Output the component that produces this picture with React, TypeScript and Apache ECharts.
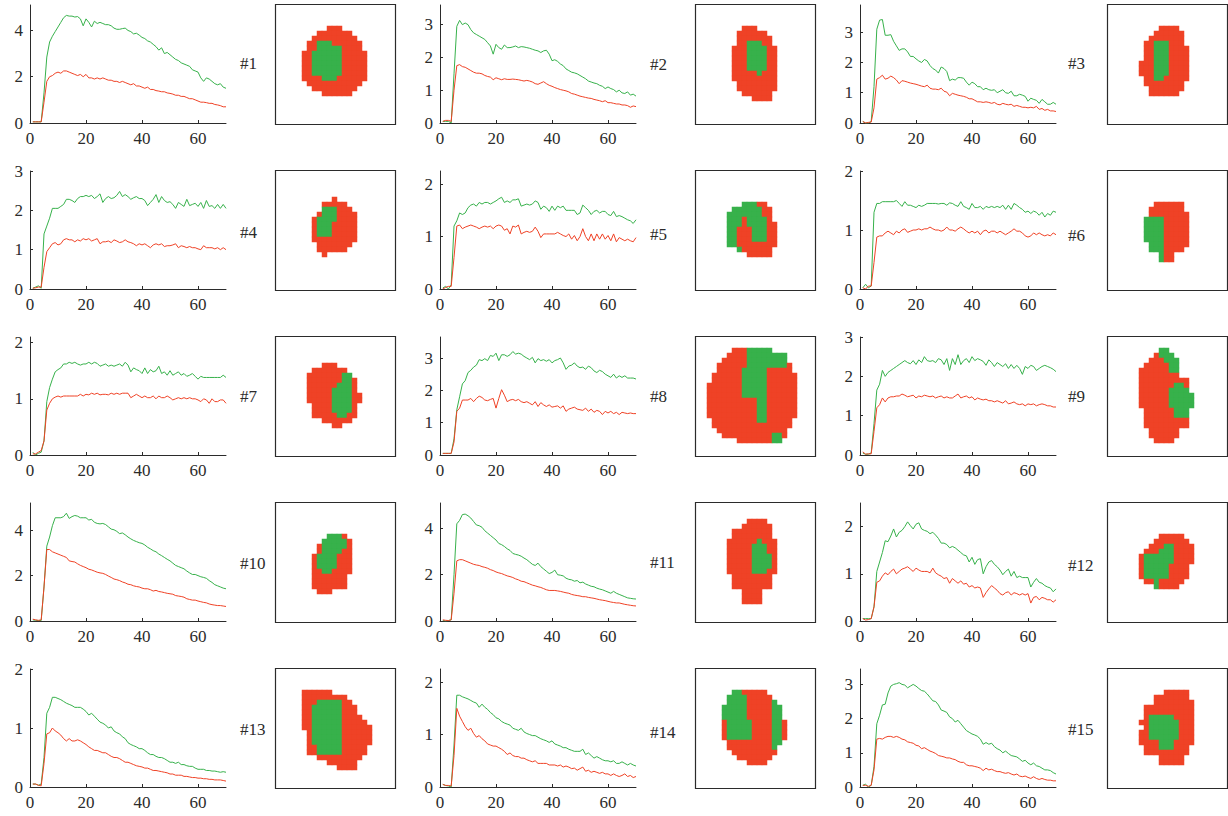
import React, { useEffect, useRef } from "react";
import * as echarts from "echarts";

// ---------------- data ----------------
const X_TICKS = [0, 20, 40, 60];
const X_MAX = 70;
const PANEL_LABELS = ["#1", "#2", "#3", "#4", "#5", "#6", "#7", "#8", "#9", "#10", "#11", "#12", "#13", "#14", "#15"];
const Y_MAX = [5.1, 3.6, 3.9, 3, 2.25, 2, 2.1, 3.65, 3, 5.2, 5.1, 2.5, 2, 2.25, 3.45];
const Y_TICKS = [
  [0, 2, 4], [0, 1, 2, 3], [0, 1, 2, 3],
  [0, 1, 2, 3], [0, 1, 2], [0, 1, 2],
  [0, 1, 2], [0, 1, 2, 3], [0, 1, 2, 3],
  [0, 2, 4], [0, 2, 4], [0, 1, 2],
  [0, 1, 2], [0, 1, 2], [0, 1, 2, 3],
];

const G01 = [0.05,0.05,0.05,0.05,1.3,2.85,3.5,3.75,3.95,4.15,4.35,4.55,4.65,4.62,4.62,4.58,4.6,4.5,4.2,4.5,4.35,4.15,4.4,4.3,4.35,4.3,4.25,4.25,4.2,4.1,4.05,4.05,4.08,4.1,4.0,3.95,3.85,3.88,3.8,3.7,3.65,3.55,3.5,3.4,3.3,3.15,3.25,3.0,3.05,2.95,2.85,2.75,2.7,2.6,2.55,2.5,2.45,2.3,2.25,2.2,1.95,1.8,1.95,1.9,1.8,1.7,1.65,1.7,1.55,1.5];
const R01 = [0.05,0.05,0.05,0.05,0.9,1.8,2.0,2.05,2.15,2.2,2.15,2.25,2.25,2.2,2.15,2.1,2.05,2.1,2.0,2.1,1.95,1.95,1.9,1.95,1.9,1.95,1.9,1.85,1.85,1.8,1.8,1.75,1.8,1.75,1.7,1.65,1.7,1.6,1.6,1.55,1.5,1.55,1.45,1.45,1.4,1.38,1.35,1.35,1.3,1.28,1.25,1.2,1.2,1.15,1.15,1.1,1.05,1.05,1.0,0.95,0.9,0.9,0.88,0.85,0.85,0.8,0.78,0.75,0.7,0.7];
const G02 = [0.05,0.05,0.05,0.0,1.5,2.95,3.13,3.0,3.05,3.0,2.85,2.75,2.7,2.65,2.6,2.55,2.45,2.35,2.1,2.4,2.3,2.25,2.38,2.3,2.3,2.32,2.35,2.3,2.33,2.32,2.3,2.28,2.25,2.22,2.2,2.15,2.2,2.22,2.1,1.9,1.93,1.88,1.8,1.75,1.65,1.6,1.55,1.53,1.5,1.45,1.4,1.35,1.28,1.25,1.22,1.2,1.15,1.12,1.05,1.1,1.05,1.02,0.95,1.0,0.92,0.9,0.95,0.85,0.88,0.82];
const R02 = [0.05,0.08,0.08,0.05,1.0,1.75,1.78,1.72,1.7,1.65,1.6,1.55,1.52,1.52,1.5,1.45,1.42,1.4,1.32,1.38,1.35,1.32,1.35,1.33,1.33,1.34,1.33,1.32,1.3,1.28,1.3,1.28,1.25,1.2,1.18,1.22,1.26,1.2,1.15,1.12,1.08,1.05,1.02,1.0,0.98,0.95,0.9,0.88,0.85,0.82,0.8,0.78,0.76,0.75,0.72,0.7,0.68,0.65,0.68,0.62,0.62,0.6,0.58,0.58,0.55,0.55,0.53,0.48,0.52,0.5];
const G03 = [0.05,0.0,0.0,0.05,1.2,3.1,3.4,3.42,2.9,2.9,2.92,2.7,2.55,2.4,2.45,2.45,2.35,2.2,2.2,2.12,2.05,2.0,2.1,2.05,1.9,1.8,1.75,1.65,1.85,1.8,1.7,1.4,1.45,1.42,1.5,1.5,1.48,1.35,1.25,1.35,1.3,1.2,1.2,1.1,1.15,1.1,1.08,1.1,1.0,1.05,1.1,1.0,0.98,1.05,0.9,0.9,0.95,0.92,0.88,0.72,0.82,0.78,0.75,0.65,0.78,0.7,0.62,0.62,0.68,0.62];
const R03 = [0.05,0.0,0.02,0.03,0.5,1.45,1.5,1.58,1.45,1.48,1.55,1.5,1.42,1.3,1.4,1.38,1.35,1.32,1.3,1.28,1.25,1.22,1.2,1.25,1.15,1.12,1.12,1.1,1.15,1.05,1.02,0.9,0.98,0.95,0.92,0.9,0.88,0.85,0.8,0.8,0.75,0.7,0.7,0.68,0.7,0.68,0.65,0.68,0.62,0.6,0.65,0.62,0.6,0.62,0.55,0.58,0.55,0.52,0.52,0.5,0.52,0.5,0.55,0.45,0.48,0.42,0.45,0.4,0.4,0.38];
const G04 = [0.02,0.05,0.08,0.02,1.4,1.6,1.8,2.05,2.05,2.05,2.1,2.15,2.28,2.28,2.25,2.2,2.3,2.35,2.35,2.38,2.35,2.38,2.3,2.35,2.42,2.2,2.3,2.35,2.3,2.32,2.38,2.48,2.35,2.4,2.35,2.28,2.32,2.35,2.3,2.3,2.25,2.12,2.2,2.28,2.4,2.2,2.35,2.25,2.2,2.22,2.15,2.05,2.2,2.15,2.1,2.28,2.12,2.15,2.18,2.1,2.2,2.05,2.25,2.1,2.12,2.05,2.15,2.05,2.15,2.05];
const R04 = [0.02,0.03,0.05,0.05,0.55,0.95,1.05,1.15,1.18,1.12,1.15,1.25,1.28,1.25,1.25,1.2,1.25,1.22,1.28,1.25,1.28,1.22,1.25,1.28,1.15,1.2,1.2,1.22,1.18,1.25,1.22,1.18,1.2,1.25,1.2,1.18,1.15,1.1,1.15,1.12,1.15,1.1,1.05,1.12,1.15,1.12,1.15,1.08,1.1,1.1,1.12,1.15,1.05,1.1,1.08,1.05,1.08,1.05,1.05,1.02,1.0,1.1,1.05,1.05,1.05,1.02,1.05,1.0,1.05,1.0];
const G05 = [0.02,0.05,0.0,0.08,1.2,1.3,1.45,1.42,1.45,1.55,1.6,1.62,1.58,1.65,1.62,1.65,1.65,1.62,1.65,1.68,1.72,1.75,1.65,1.68,1.65,1.7,1.7,1.72,1.58,1.6,1.62,1.6,1.62,1.68,1.65,1.52,1.58,1.55,1.48,1.58,1.5,1.58,1.55,1.58,1.5,1.5,1.5,1.5,1.42,1.45,1.6,1.55,1.5,1.42,1.48,1.5,1.45,1.48,1.48,1.42,1.4,1.48,1.38,1.4,1.38,1.35,1.32,1.3,1.25,1.32];
const R05 = [0.0,0.03,0.05,0.05,0.6,1.2,1.22,1.15,1.18,1.2,1.22,1.2,1.18,1.15,1.18,1.2,1.18,1.2,1.15,1.2,1.22,1.2,1.12,1.15,1.05,1.2,1.18,1.22,1.05,1.08,1.1,1.08,1.1,1.18,1.1,0.98,1.05,1.05,1.05,1.05,1.05,1.08,1.05,1.02,1.0,1.05,0.95,1.02,0.92,1.0,1.15,1.0,0.92,1.05,0.92,1.05,0.95,1.05,0.95,1.02,0.92,1.05,0.9,0.98,0.95,0.92,0.95,0.92,0.9,0.98];
const G06 = [0.02,0.08,0.02,0.05,1.3,1.45,1.45,1.48,1.48,1.48,1.48,1.48,1.5,1.45,1.4,1.48,1.42,1.42,1.4,1.38,1.42,1.4,1.42,1.45,1.45,1.45,1.45,1.44,1.45,1.45,1.42,1.46,1.45,1.42,1.4,1.48,1.4,1.38,1.35,1.45,1.38,1.38,1.4,1.35,1.4,1.38,1.4,1.38,1.4,1.38,1.42,1.35,1.42,1.35,1.45,1.42,1.38,1.35,1.3,1.32,1.28,1.32,1.3,1.25,1.3,1.22,1.28,1.25,1.32,1.3];
const R06 = [0.02,0.0,0.05,0.05,0.45,0.88,0.9,0.9,0.95,0.98,0.95,0.92,0.98,0.95,1.0,1.02,0.96,0.98,1.0,1.0,1.02,1.0,1.02,1.02,1.05,1.02,1.0,1.0,0.98,1.0,1.05,1.0,1.0,0.98,1.02,1.05,1.02,0.98,0.95,0.98,0.95,0.98,0.92,0.98,1.0,0.95,0.98,0.98,0.95,0.98,0.95,0.92,0.95,0.98,1.02,0.98,0.98,0.95,0.9,0.88,0.9,0.95,0.92,0.95,0.92,0.9,0.92,0.9,0.95,0.92];
const G07 = [0.05,0.0,0.03,0.05,0.25,0.95,1.2,1.35,1.48,1.52,1.55,1.62,1.62,1.65,1.63,1.65,1.62,1.6,1.62,1.62,1.65,1.62,1.65,1.63,1.58,1.6,1.62,1.58,1.6,1.58,1.6,1.62,1.58,1.65,1.6,1.48,1.55,1.52,1.5,1.45,1.55,1.45,1.52,1.48,1.5,1.58,1.45,1.48,1.42,1.5,1.42,1.45,1.48,1.42,1.45,1.4,1.42,1.45,1.4,1.35,1.4,1.38,1.38,1.38,1.38,1.38,1.38,1.38,1.42,1.38];
const R07 = [0.02,0.02,0.05,0.08,0.25,0.8,0.92,1.0,1.03,1.05,1.03,1.05,1.05,1.05,1.05,1.05,1.05,1.08,1.05,1.08,1.07,1.1,1.08,1.1,1.07,1.08,1.08,1.07,1.1,1.08,1.1,1.08,1.1,1.1,1.1,1.02,1.05,1.08,1.05,1.02,1.05,1.02,1.02,1.05,1.0,1.05,1.02,1.02,1.05,1.02,0.98,1.0,1.02,1.0,1.02,1.0,1.02,1.0,1.0,0.98,0.95,1.0,0.98,0.92,1.0,0.95,0.95,0.98,0.98,0.92];
const G08 = [0.05,0.05,0.05,0.05,0.5,1.4,1.8,2.2,2.3,2.55,2.62,2.72,2.78,2.95,2.92,2.98,2.92,3.08,3.05,3.15,2.92,3.1,3.1,3.05,3.1,3.2,3.12,3.15,3.12,3.05,3.0,2.95,3.02,2.85,2.98,2.92,2.95,2.9,2.95,2.85,2.92,2.95,3.0,2.85,2.65,2.75,2.78,2.85,2.75,2.7,2.72,2.65,2.75,2.7,2.6,2.55,2.62,2.58,2.5,2.45,2.4,2.5,2.38,2.45,2.4,2.45,2.38,2.38,2.38,2.35];
const R08 = [0.05,0.05,0.05,0.05,0.4,1.35,1.45,1.7,1.7,1.7,1.75,1.65,1.75,1.82,1.78,1.7,1.68,1.72,1.75,1.45,1.75,2.02,1.85,1.65,1.7,1.72,1.68,1.72,1.65,1.62,1.65,1.6,1.55,1.65,1.5,1.62,1.55,1.5,1.55,1.48,1.5,1.52,1.45,1.52,1.35,1.42,1.45,1.48,1.42,1.4,1.38,1.45,1.35,1.42,1.32,1.38,1.35,1.25,1.35,1.3,1.35,1.28,1.32,1.25,1.32,1.3,1.28,1.3,1.28,1.28];
const G09 = [0.05,0.02,0.02,0.05,0.8,1.65,1.8,2.15,2.0,2.1,2.15,2.2,2.25,2.3,2.35,2.4,2.35,2.32,2.4,2.3,2.42,2.35,2.5,2.4,2.38,2.4,2.35,2.45,2.42,2.3,2.45,2.15,2.45,2.3,2.55,2.3,2.4,2.45,2.35,2.5,2.4,2.45,2.42,2.38,2.28,2.42,2.35,2.25,2.35,2.3,2.25,2.32,2.2,2.3,2.2,2.28,2.2,2.05,2.25,2.2,2.28,2.25,2.15,2.2,2.25,2.28,2.25,2.22,2.18,2.12];
const R09 = [0.08,0.02,0.03,0.03,0.6,1.2,1.28,1.45,1.35,1.45,1.48,1.48,1.5,1.5,1.55,1.52,1.48,1.5,1.52,1.45,1.5,1.48,1.52,1.5,1.48,1.5,1.45,1.48,1.5,1.45,1.48,1.45,1.45,1.5,1.55,1.45,1.48,1.5,1.45,1.48,1.4,1.45,1.42,1.4,1.42,1.38,1.38,1.35,1.38,1.35,1.32,1.38,1.3,1.32,1.35,1.3,1.28,1.3,1.25,1.3,1.28,1.3,1.25,1.28,1.3,1.28,1.25,1.25,1.22,1.22];
const G10 = [0.05,0.03,0.02,0.02,1.5,3.3,3.7,4.2,4.55,4.55,4.55,4.6,4.75,4.52,4.6,4.65,4.62,4.55,4.55,4.55,4.45,4.48,4.35,4.3,4.28,4.3,4.25,4.15,4.05,4.02,3.95,3.85,3.88,3.8,3.7,3.62,3.55,3.5,3.45,3.42,3.35,3.25,3.18,3.1,3.05,2.95,2.88,2.8,2.72,2.65,2.55,2.45,2.4,2.35,2.3,2.2,2.12,2.05,2.05,2.0,1.95,1.92,1.88,1.78,1.7,1.6,1.55,1.5,1.45,1.42];
const R10 = [0.08,0.05,0.03,0.05,1.5,3.15,3.15,3.05,3.0,2.95,2.9,2.85,2.8,2.65,2.62,2.6,2.52,2.45,2.4,2.35,2.28,2.25,2.2,2.15,2.12,2.1,2.05,1.98,1.92,1.85,1.82,1.78,1.72,1.68,1.62,1.6,1.55,1.52,1.5,1.45,1.42,1.42,1.38,1.32,1.35,1.3,1.28,1.25,1.22,1.2,1.18,1.12,1.1,1.08,1.05,0.98,0.95,0.92,0.92,0.88,0.85,0.82,0.8,0.75,0.72,0.7,0.68,0.68,0.66,0.64];
const G11 = [0.02,0.0,0.02,0.05,2.0,4.2,4.35,4.6,4.62,4.55,4.45,4.3,4.15,4.12,4.05,3.9,3.8,3.7,3.6,3.5,3.35,3.3,3.22,3.12,3.05,2.92,2.88,2.85,2.8,2.72,2.65,2.55,2.45,2.4,2.5,2.35,2.25,2.15,2.05,2.1,2.2,2.0,1.98,1.95,1.85,1.8,1.78,1.72,1.75,1.65,1.68,1.6,1.55,1.5,1.48,1.42,1.38,1.35,1.3,1.25,1.2,1.28,1.2,1.15,1.1,1.05,1.0,0.98,0.96,0.95];
const R11 = [0.05,0.03,0.02,0.05,1.2,2.6,2.65,2.65,2.6,2.55,2.5,2.45,2.42,2.4,2.35,2.32,2.28,2.22,2.18,2.12,2.08,2.05,2.0,1.95,1.92,1.88,1.82,1.78,1.72,1.7,1.65,1.6,1.55,1.52,1.48,1.45,1.4,1.35,1.32,1.32,1.32,1.3,1.28,1.25,1.22,1.2,1.15,1.12,1.1,1.08,1.05,1.05,1.02,1.0,0.98,0.95,0.92,0.9,0.88,0.85,0.82,0.8,0.78,0.78,0.75,0.72,0.7,0.68,0.66,0.65];
const G12 = [0.05,0.05,0.05,0.05,0.3,1.05,1.25,1.45,1.7,1.68,1.8,1.95,1.78,1.88,1.92,2.0,2.1,2.02,1.95,2.05,2.08,1.95,1.92,1.9,1.85,1.88,1.82,1.75,1.65,1.65,1.62,1.55,1.58,1.55,1.5,1.45,1.4,1.38,1.25,1.35,1.2,1.3,1.32,1.0,1.15,1.25,1.28,1.2,1.15,1.08,0.98,1.05,1.1,0.95,1.05,0.92,0.95,0.92,0.92,0.92,0.72,0.82,0.9,0.82,0.8,0.75,0.72,0.7,0.62,0.68];
const R12 = [0.05,0.02,0.03,0.05,0.3,0.82,0.85,0.95,1.02,0.98,1.05,1.1,1.0,1.05,1.1,1.12,1.15,1.1,1.05,1.12,1.08,1.05,1.05,1.05,1.02,1.12,1.02,0.98,0.95,0.9,0.92,0.8,0.9,0.85,0.8,0.85,0.78,0.8,0.72,0.75,0.7,0.72,0.7,0.5,0.6,0.68,0.75,0.7,0.65,0.58,0.55,0.6,0.62,0.55,0.6,0.58,0.55,0.58,0.55,0.58,0.38,0.5,0.52,0.45,0.5,0.48,0.45,0.45,0.4,0.45];
const G13 = [0.05,0.05,0.03,0.05,0.5,1.25,1.35,1.52,1.52,1.5,1.48,1.45,1.42,1.4,1.38,1.35,1.35,1.35,1.32,1.28,1.22,1.25,1.2,1.15,1.1,1.08,1.05,1.0,1.02,0.95,0.92,0.9,0.85,0.82,0.75,0.72,0.7,0.68,0.65,0.65,0.62,0.58,0.55,0.55,0.52,0.5,0.5,0.48,0.45,0.42,0.42,0.4,0.42,0.38,0.38,0.36,0.35,0.35,0.32,0.3,0.3,0.3,0.28,0.28,0.27,0.27,0.26,0.25,0.26,0.25];
const R13 = [0.05,0.05,0.03,0.02,0.4,0.9,0.92,1.0,0.95,0.92,0.88,0.82,0.78,0.82,0.78,0.78,0.8,0.78,0.75,0.72,0.68,0.65,0.62,0.62,0.6,0.58,0.58,0.55,0.52,0.5,0.5,0.48,0.45,0.42,0.42,0.4,0.38,0.36,0.35,0.34,0.32,0.32,0.3,0.28,0.28,0.27,0.26,0.25,0.24,0.22,0.22,0.2,0.2,0.2,0.18,0.18,0.17,0.16,0.16,0.15,0.15,0.14,0.14,0.13,0.13,0.12,0.12,0.12,0.11,0.1];
const G14 = [0.05,0.03,0.02,0.0,0.8,1.75,1.75,1.72,1.7,1.68,1.65,1.62,1.6,1.52,1.58,1.52,1.48,1.42,1.38,1.32,1.3,1.25,1.22,1.2,1.18,1.12,1.1,1.08,1.12,1.05,1.02,1.0,0.98,0.98,0.95,0.92,0.9,0.88,0.85,0.88,0.82,0.8,0.78,0.75,0.75,0.72,0.7,0.68,0.68,0.68,0.72,0.62,0.65,0.6,0.55,0.58,0.55,0.52,0.5,0.5,0.48,0.5,0.45,0.45,0.48,0.45,0.42,0.45,0.42,0.4];
const R14 = [0.05,0.03,0.03,0.02,0.6,1.5,1.35,1.25,1.15,1.08,1.12,1.02,0.95,0.98,0.92,0.88,0.82,0.8,0.78,0.78,0.75,0.72,0.68,0.62,0.65,0.6,0.58,0.58,0.55,0.55,0.52,0.5,0.48,0.5,0.45,0.45,0.45,0.45,0.42,0.42,0.42,0.4,0.42,0.38,0.4,0.38,0.35,0.36,0.32,0.35,0.38,0.3,0.32,0.28,0.3,0.28,0.26,0.28,0.25,0.25,0.22,0.25,0.22,0.2,0.22,0.25,0.2,0.22,0.18,0.2];
const G15 = [0.05,0.08,0.0,0.05,0.6,1.85,2.1,2.4,2.42,2.75,2.95,3.0,3.02,3.05,3.0,2.98,2.9,2.95,3.0,2.95,2.88,2.82,2.8,2.72,2.62,2.52,2.5,2.4,2.25,2.22,2.18,2.05,2.0,1.9,1.95,1.85,1.75,1.65,1.6,1.55,1.52,1.48,1.4,1.25,1.3,1.25,1.28,1.18,1.12,1.08,1.0,1.05,0.98,0.92,0.9,0.88,0.82,0.75,0.78,0.7,0.65,0.7,0.62,0.6,0.55,0.5,0.5,0.48,0.42,0.38];
const R15 = [0.05,0.05,0.02,0.05,0.5,1.4,1.42,1.4,1.45,1.48,1.48,1.45,1.48,1.45,1.4,1.38,1.32,1.3,1.28,1.22,1.2,1.12,1.15,1.1,1.05,1.02,0.98,0.92,0.9,0.88,0.85,0.85,0.82,0.8,0.75,0.72,0.72,0.65,0.62,0.62,0.6,0.58,0.55,0.48,0.55,0.5,0.52,0.48,0.45,0.45,0.42,0.4,0.42,0.38,0.35,0.38,0.32,0.3,0.32,0.28,0.25,0.3,0.25,0.22,0.25,0.22,0.2,0.2,0.18,0.18];

// blobs: [row, firstColumn, runs]  r = red pixel, g = green pixel (23 x 23 image)
const BLOB01 = [[4,10,"r3"],[5,8,"r7"],[6,7,"r9"],[7,6,"r2 g3 r6"],[8,6,"r2 g5 r4"],[9,5,"r2 g6 r5"],[10,5,"r2 g6 r5"],[11,5,"r2 g6 r5"],[12,5,"r2 g6 r5"],[13,5,"r2 g6 r5"],[14,5,"r4 g3 r6"],[15,6,"r11"],[16,7,"r9"],[17,9,"r6"]];
const BLOB02 = [[4,9,"r3"],[5,8,"r6"],[6,8,"r7"],[7,8,"r2 g3 r2"],[8,7,"r3 g4 r2"],[9,7,"r3 g4 r2"],[10,7,"r3 g4 r2"],[11,7,"r3 g4 r2"],[12,7,"r3 g4 r2"],[13,7,"r5 g1 r3"],[14,7,"r9"],[15,8,"r8"],[16,8,"r8"],[17,9,"r6"],[18,11,"r4"]];
const BLOB03 = [[4,10,"r4"],[5,9,"r6"],[6,8,"r7"],[7,7,"r2 g3 r3"],[8,7,"r2 g3 r4"],[9,7,"r2 g3 r4"],[10,7,"r2 g3 r4"],[11,6,"r3 g3 r4"],[12,6,"r3 g3 r4"],[13,6,"r3 g3 r4"],[14,7,"r2 g2 r5"],[15,7,"r8"],[16,8,"r7"],[17,8,"r6"]];
const BLOB04 = [[5,11,"r1"],[6,9,"r5"],[7,9,"g3 r3"],[8,8,"r1 g3 r4"],[9,7,"r1 g4 r4"],[10,7,"r1 g3 r5"],[11,7,"r1 g3 r5"],[12,7,"r1 g3 r5"],[13,7,"r9"],[14,8,"r7"],[15,8,"r6"],[16,9,"r1"]];
const BLOB05 = [[6,9,"g3 r2"],[7,7,"g6 r2"],[8,6,"g7 r2"],[9,6,"g3 r1 g4 r1"],[10,6,"g3 r1 g4 r2"],[11,6,"g2 r3 g3 r2"],[12,6,"g2 r3 g3 r2"],[13,6,"g2 r3 g3 r2"],[14,6,"g2 r8"],[15,8,"g1 r6"],[16,10,"r5"]];
const BLOB06 = [[6,9,"r6"],[7,8,"r7"],[8,8,"r8"],[9,7,"g4 r5"],[10,7,"g4 r5"],[11,7,"g4 r5"],[12,7,"g4 r5"],[13,7,"g4 r5"],[14,8,"g3 r5"],[15,8,"g3 r4"],[16,10,"g1 r2"],[17,10,"g1 r2"]];
const BLOB07 = [[5,9,"r3"],[6,7,"r7"],[7,6,"r7 g2"],[8,6,"r7 g2 r1"],[9,6,"r6 g3 r1"],[10,6,"r5 g4 r1"],[11,6,"r5 g4 r2"],[12,6,"r5 g4 r2"],[13,7,"r4 g4 r1"],[14,7,"r4 g4 r1"],[15,7,"r5 g2 r2"],[16,9,"r6"],[17,11,"r2"]];
const BLOB08 = [[2,7,"r3 g5"],[3,6,"r4 g8"],[4,5,"r5 g8"],[5,4,"r6 g8 r1"],[6,4,"r5 g5 r5"],[7,3,"r6 g5 r6"],[8,3,"r6 g5 r6"],[9,2,"r7 g5 r6"],[10,2,"r7 g5 r6"],[11,2,"r7 g5 r6"],[12,2,"r10 g2 r6"],[13,2,"r10 g2 r6"],[14,2,"r10 g2 r6"],[15,2,"r10 g2 r6"],[16,3,"r9 g2 r5"],[17,3,"r16"],[18,4,"r14"],[19,5,"r10 g2 r1"],[20,8,"r7 g2"]];
const BLOB09 = [[2,10,"g2"],[3,9,"r1 g3"],[4,8,"r3 g3"],[5,7,"r5 g2"],[6,6,"r6 g2"],[7,6,"r8"],[8,6,"r10"],[9,6,"r7 g2 r1"],[10,6,"r6 g4"],[11,6,"r6 g5"],[12,6,"r6 g5"],[13,6,"r6 g5"],[14,7,"r6 g3"],[15,7,"r6 g3"],[16,7,"r9"],[17,7,"r9"],[18,8,"r6"],[19,8,"r6"],[20,9,"r4"]];
const BLOB10 = [[6,10,"g3 r1"],[7,9,"g5 r1"],[8,8,"r1 g5 r1"],[9,8,"r1 g4 r2"],[10,7,"r1 g4 r3"],[11,7,"r1 g4 r3"],[12,7,"r1 g4 r3"],[13,7,"r2 g2 r4"],[14,7,"r7"],[15,7,"r7"],[16,7,"r7"],[17,8,"r3"]];
const BLOB11 = [[3,10,"r4"],[4,9,"r6"],[5,7,"r8"],[6,7,"r8"],[7,6,"r6 g1 r3"],[8,6,"r5 g3 r2"],[9,6,"r5 g3 r2"],[10,6,"r5 g4 r1"],[11,6,"r5 g4 r1"],[12,6,"r5 g4 r1"],[13,6,"r5 g3 r2"],[14,7,"r8"],[15,7,"r8"],[16,7,"r8"],[17,9,"r4"],[18,9,"r4"],[19,9,"r4"]];
const BLOB12 = [[6,10,"r5"],[7,9,"r7"],[8,8,"r3 g2 r4"],[9,7,"r3 g3 r4"],[10,6,"r1 g6 r4"],[11,6,"r1 g6 r4"],[12,6,"r1 g5 r4"],[13,6,"r1 g5 r4"],[14,6,"r1 g5 r4"],[15,7,"r2 g1 r5"],[16,9,"g1 r4"]];
const BLOB13 = [[4,5,"r6"],[5,5,"r9"],[6,5,"r3 g5 r2"],[7,5,"r2 g6 r3"],[8,5,"r2 g6 r3"],[9,5,"r2 g6 r4"],[10,5,"r2 g6 r5"],[11,5,"r2 g6 r6"],[12,6,"r1 g6 r6"],[13,6,"r1 g6 r6"],[14,6,"r1 g6 r6"],[15,6,"r2 g5 r5"],[16,6,"r2 g5 r5"],[17,8,"r9"],[18,10,"r6"],[19,12,"r4"]];
const BLOB14 = [[4,7,"g2 r5"],[5,6,"g4 r5"],[6,6,"g4 r5 g1"],[7,5,"g5 r5 g2"],[8,5,"g5 r5 g2"],[9,5,"g5 r5 g2"],[10,5,"r1 g5 r4 g2 r1"],[11,5,"r1 g5 r4 g2 r1"],[12,5,"r1 g5 r4 g2 r1"],[13,5,"r1 g5 r4 g2 r1"],[14,6,"r9 g2"],[15,6,"r9 g1"],[16,7,"r9"],[17,8,"r7"],[18,10,"r4"]];
const BLOB15 = [[4,11,"r5"],[5,9,"r7"],[6,9,"r8"],[7,7,"r10"],[8,7,"r10"],[9,7,"r1 g5 r4"],[10,6,"r2 g6 r3"],[11,7,"r1 g6 r3"],[12,6,"r2 g6 r3"],[13,6,"r2 g6 r3"],[14,6,"r4 g3 r4"],[15,7,"r3 g3 r3"],[16,7,"r9"],[17,10,"r5"],[18,10,"r5"]];

const GREEN_SERIES = [G01, G02, G03, G04, G05, G06, G07, G08, G09, G10, G11, G12, G13, G14, G15];
const RED_SERIES = [R01, R02, R03, R04, R05, R06, R07, R08, R09, R10, R11, R12, R13, R14, R15];
const BLOBS = [BLOB01, BLOB02, BLOB03, BLOB04, BLOB05, BLOB06, BLOB07, BLOB08, BLOB09, BLOB10, BLOB11, BLOB12, BLOB13, BLOB14, BLOB15];
const IMAGE_SIZE = 23;

// ---------------- layout & style ----------------
const GREEN = "#37b14b";
const RED = "#ef4226";
const AXIS = "#2b2b2b";
const FONT = "'Liberation Serif', 'DejaVu Serif', 'Times New Roman', serif";
const ROW_TOP = [0, 166, 332, 498, 664];
const CHART_X = [30, 440, 860];
const BOX_X = [275, 695, 1107];
const LABEL_X = [240, 650, 1068];
const LABEL_Y = [63, 64, 63, 232, 234, 235, 396, 396, 396, 563, 562, 565, 729, 732, 729];

function expandBlob(rows: any[]) {
  const out: number[][] = [];
  for (const [row, start, runs] of rows) {
    let col = start;
    for (const token of String(runs).split(" ")) {
      const n = parseInt(token.slice(1), 10);
      const v = token[0] === "g" ? 2 : 1;
      for (let k = 0; k < n; k++) out.push([col + k, row, v]);
      col += n;
    }
  }
  return out;
}

function buildOption() {
  const grid: any[] = [];
  const xAxis: any[] = [];
  const yAxis: any[] = [];
  const series: any[] = [];
  const elements: any[] = [];
  const labelStyle = { fontFamily: FONT, fontSize: 17, color: AXIS };

  for (let i = 0; i < 15; i++) {
    const r = Math.floor(i / 3);
    const c = i % 3;
    grid.push({ left: CHART_X[c], top: ROW_TOP[r] + 5, width: 196, height: 118 });
    xAxis.push({
      gridIndex: i, type: "value", min: 0, max: X_MAX,
      axisLine: { show: true, onZero: false, lineStyle: { color: AXIS, width: 1 } },
      axisTick: { show: true, inside: true, length: 3, customValues: X_TICKS, lineStyle: { color: AXIS } },
      axisLabel: { ...labelStyle, margin: 7, customValues: X_TICKS },
      splitLine: { show: false },
    });
    yAxis.push({
      gridIndex: i, type: "value", min: 0, max: Y_MAX[i],
      axisLine: { show: true, onZero: false, lineStyle: { color: AXIS, width: 1 } },
      axisTick: { show: true, inside: true, length: 3, customValues: Y_TICKS[i], lineStyle: { color: AXIS } },
      axisLabel: { ...labelStyle, margin: 7, customValues: Y_TICKS[i] },
      splitLine: { show: false },
    });
  }
  for (let i = 0; i < 15; i++) {
    series.push({
      type: "line", xAxisIndex: i, yAxisIndex: i, symbol: "none", silent: true,
      data: GREEN_SERIES[i].map((v, k) => [k + 1, v]),
      lineStyle: { color: GREEN, width: 1 }, itemStyle: { color: GREEN },
    });
    series.push({
      type: "line", xAxisIndex: i, yAxisIndex: i, symbol: "none", silent: true,
      data: RED_SERIES[i].map((v, k) => [k + 1, v]),
      lineStyle: { color: RED, width: 1 }, itemStyle: { color: RED },
    });
  }
  const cells = Array.from({ length: IMAGE_SIZE }, (_, k) => String(k));
  const heatIdx: number[] = [];
  for (let i = 0; i < 15; i++) {
    const r = Math.floor(i / 3);
    const c = i % 3;
    const gi = 15 + i;
    grid.push({ left: BOX_X[c] + 2, top: ROW_TOP[r] + 6, width: 115, height: 115 });
    xAxis.push({ gridIndex: gi, type: "category", data: cells, show: false });
    yAxis.push({ gridIndex: gi, type: "category", data: cells, inverse: true, show: false });
    heatIdx.push(series.length);
    series.push({
      type: "heatmap", xAxisIndex: gi, yAxisIndex: gi, silent: true,
      data: expandBlob(BLOBS[i]), emphasis: { disabled: true },
    });
    elements.push({
      type: "rect", silent: true,
      shape: { x: BOX_X[c] + 0.5, y: ROW_TOP[r] + 4.5, width: 120, height: 120 },
      style: { fill: "none", stroke: AXIS, lineWidth: 1.2 },
    });
    elements.push({
      type: "text", silent: true, x: LABEL_X[c], y: LABEL_Y[i],
      style: {
        text: PANEL_LABELS[i], fill: AXIS, font: `17px ${FONT}`,
        textVerticalAlign: "middle", verticalAlign: "middle", textAlign: "left",
      },
    });
  }

  return {
    animation: false,
    backgroundColor: "#ffffff",
    textStyle: { fontFamily: FONT },
    grid, xAxis, yAxis, series,
    visualMap: [{
      type: "piecewise", show: false, dimension: 2, seriesIndex: heatIdx,
      pieces: [{ value: 1, color: RED }, { value: 2, color: GREEN }],
    }],
    graphic: { elements },
  };
}

export default function App() {
  const ref = useRef<HTMLDivElement>(null);
  useEffect(() => {
    if (!ref.current) return;
    const chart = echarts.init(ref.current, null, { renderer: "svg" });
    chart.setOption(buildOption() as any);
    return () => chart.dispose();
  }, []);
  return (
    <div
      ref={ref}
      style={{ position: "absolute", left: 0, top: 0, width: 1228, height: 816, background: "#fff" }}
    />
  );
}
